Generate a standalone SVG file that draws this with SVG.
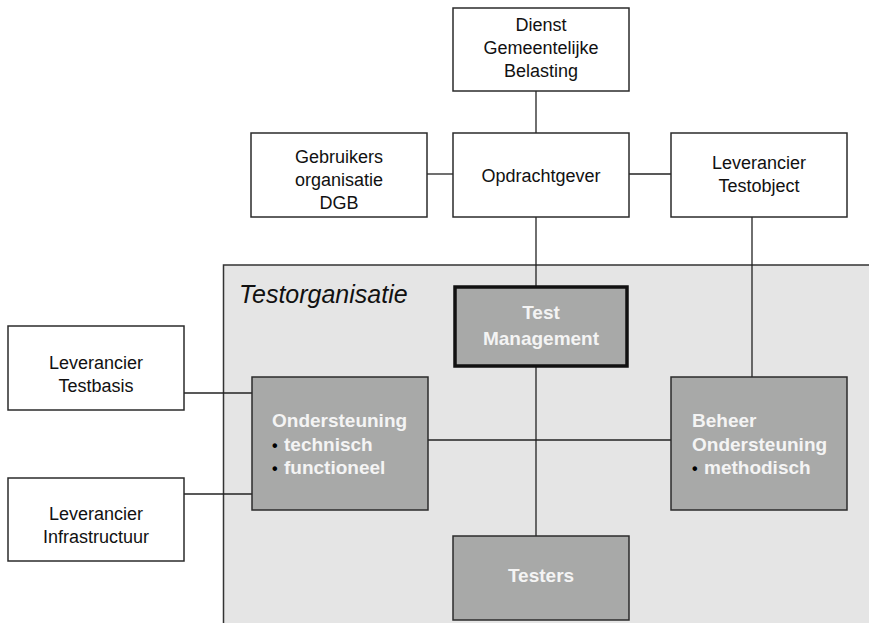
<svg xmlns="http://www.w3.org/2000/svg" width="869" height="623" viewBox="0 0 869 623">
<style>
  .w { fill: #ffffff; stroke: #2b2b2b; stroke-width: 1.5; }
  .g { fill: #a8a9a8; stroke: #2b2b2b; stroke-width: 1.5; }
  .gt { fill: #a8a9a8; stroke: #111111; stroke-width: 3.5; }
  .t { font-family: "Liberation Sans", Arial, sans-serif; font-size: 18px; fill: #111111; text-anchor: middle; }
  .b { font-family: "Liberation Sans", Arial, sans-serif; font-size: 19px; font-weight: bold; fill: #f4f4f4; }
  .bc { text-anchor: middle; }
  .dot { fill: #000000; font-size: 16px; }
  .c line { stroke: #222222; stroke-width: 1.3; }
</style>
<rect width="869" height="623" fill="#ffffff"/>
<g id="testorganisatie">
  <rect x="223.5" y="265" width="650" height="370" fill="#e5e5e5" stroke="#333333" stroke-width="1.5"/>
  <text x="239" y="303" font-family="Liberation Sans, Arial, sans-serif" font-size="25" font-style="italic" fill="#111111">Testorganisatie</text>
</g>
<g class="c" id="connectors">
  <line x1="536" y1="91" x2="536" y2="133"/>
  <line x1="427" y1="174" x2="453" y2="174"/>
  <line x1="629" y1="174" x2="671" y2="174"/>
  <line x1="536" y1="217" x2="536" y2="286"/>
  <line x1="752" y1="217" x2="752" y2="377"/>
  <line x1="536" y1="367" x2="536" y2="536"/>
  <line x1="428" y1="440" x2="671" y2="440"/>
  <line x1="184" y1="393" x2="252" y2="393"/>
  <line x1="184" y1="494" x2="252" y2="494"/>
</g>
<g id="dienst">
  <rect class="w" x="453" y="8" width="176" height="83"/>
  <text class="t" x="541" y="31">Dienst</text>
  <text class="t" x="541" y="54">Gemeentelijke</text>
  <text class="t" x="541" y="77">Belasting</text>
</g>
<g id="gebruikers">
  <rect class="w" x="251" y="133" width="176" height="84"/>
  <text class="t" x="339" y="163">Gebruikers</text>
  <text class="t" x="339" y="186">organisatie</text>
  <text class="t" x="339" y="209">DGB</text>
</g>
<g id="opdrachtgever">
  <rect class="w" x="453" y="133" width="176" height="84"/>
  <text class="t" x="541" y="182">Opdrachtgever</text>
</g>
<g id="lev-testobject">
  <rect class="w" x="671" y="133" width="176" height="84"/>
  <text class="t" x="759" y="169">Leverancier</text>
  <text class="t" x="759" y="192">Testobject</text>
</g>
<g id="lev-testbasis">
  <rect class="w" x="8" y="326" width="176" height="84"/>
  <text class="t" x="96" y="369">Leverancier</text>
  <text class="t" x="96" y="392">Testbasis</text>
</g>
<g id="lev-infra">
  <rect class="w" x="8" y="478" width="176" height="83"/>
  <text class="t" x="96" y="520">Leverancier</text>
  <text class="t" x="96" y="543">Infrastructuur</text>
</g>
<g id="test-management">
  <rect class="gt" x="455" y="287" width="172" height="79"/>
  <text class="b bc" x="541" y="319">Test</text>
  <text class="b bc" x="541" y="345">Management</text>
</g>
<g id="ondersteuning">
  <rect class="g" x="252" y="377" width="176" height="133"/>
  <text class="b" x="272" y="427">Ondersteuning</text>
  <text class="b" x="272" y="451"><tspan class="dot">•</tspan><tspan x="284">technisch</tspan></text>
  <text class="b" x="272" y="474"><tspan class="dot">•</tspan><tspan x="284">functioneel</tspan></text>
</g>
<g id="beheer">
  <rect class="g" x="671" y="377" width="176" height="133"/>
  <text class="b" x="692" y="427">Beheer</text>
  <text class="b" x="692" y="451">Ondersteuning</text>
  <text class="b" x="692" y="474"><tspan class="dot">•</tspan><tspan x="704">methodisch</tspan></text>
</g>
<g id="testers">
  <rect class="g" x="453" y="536" width="176" height="84"/>
  <text class="b bc" x="541" y="582">Testers</text>
</g>
</svg>
